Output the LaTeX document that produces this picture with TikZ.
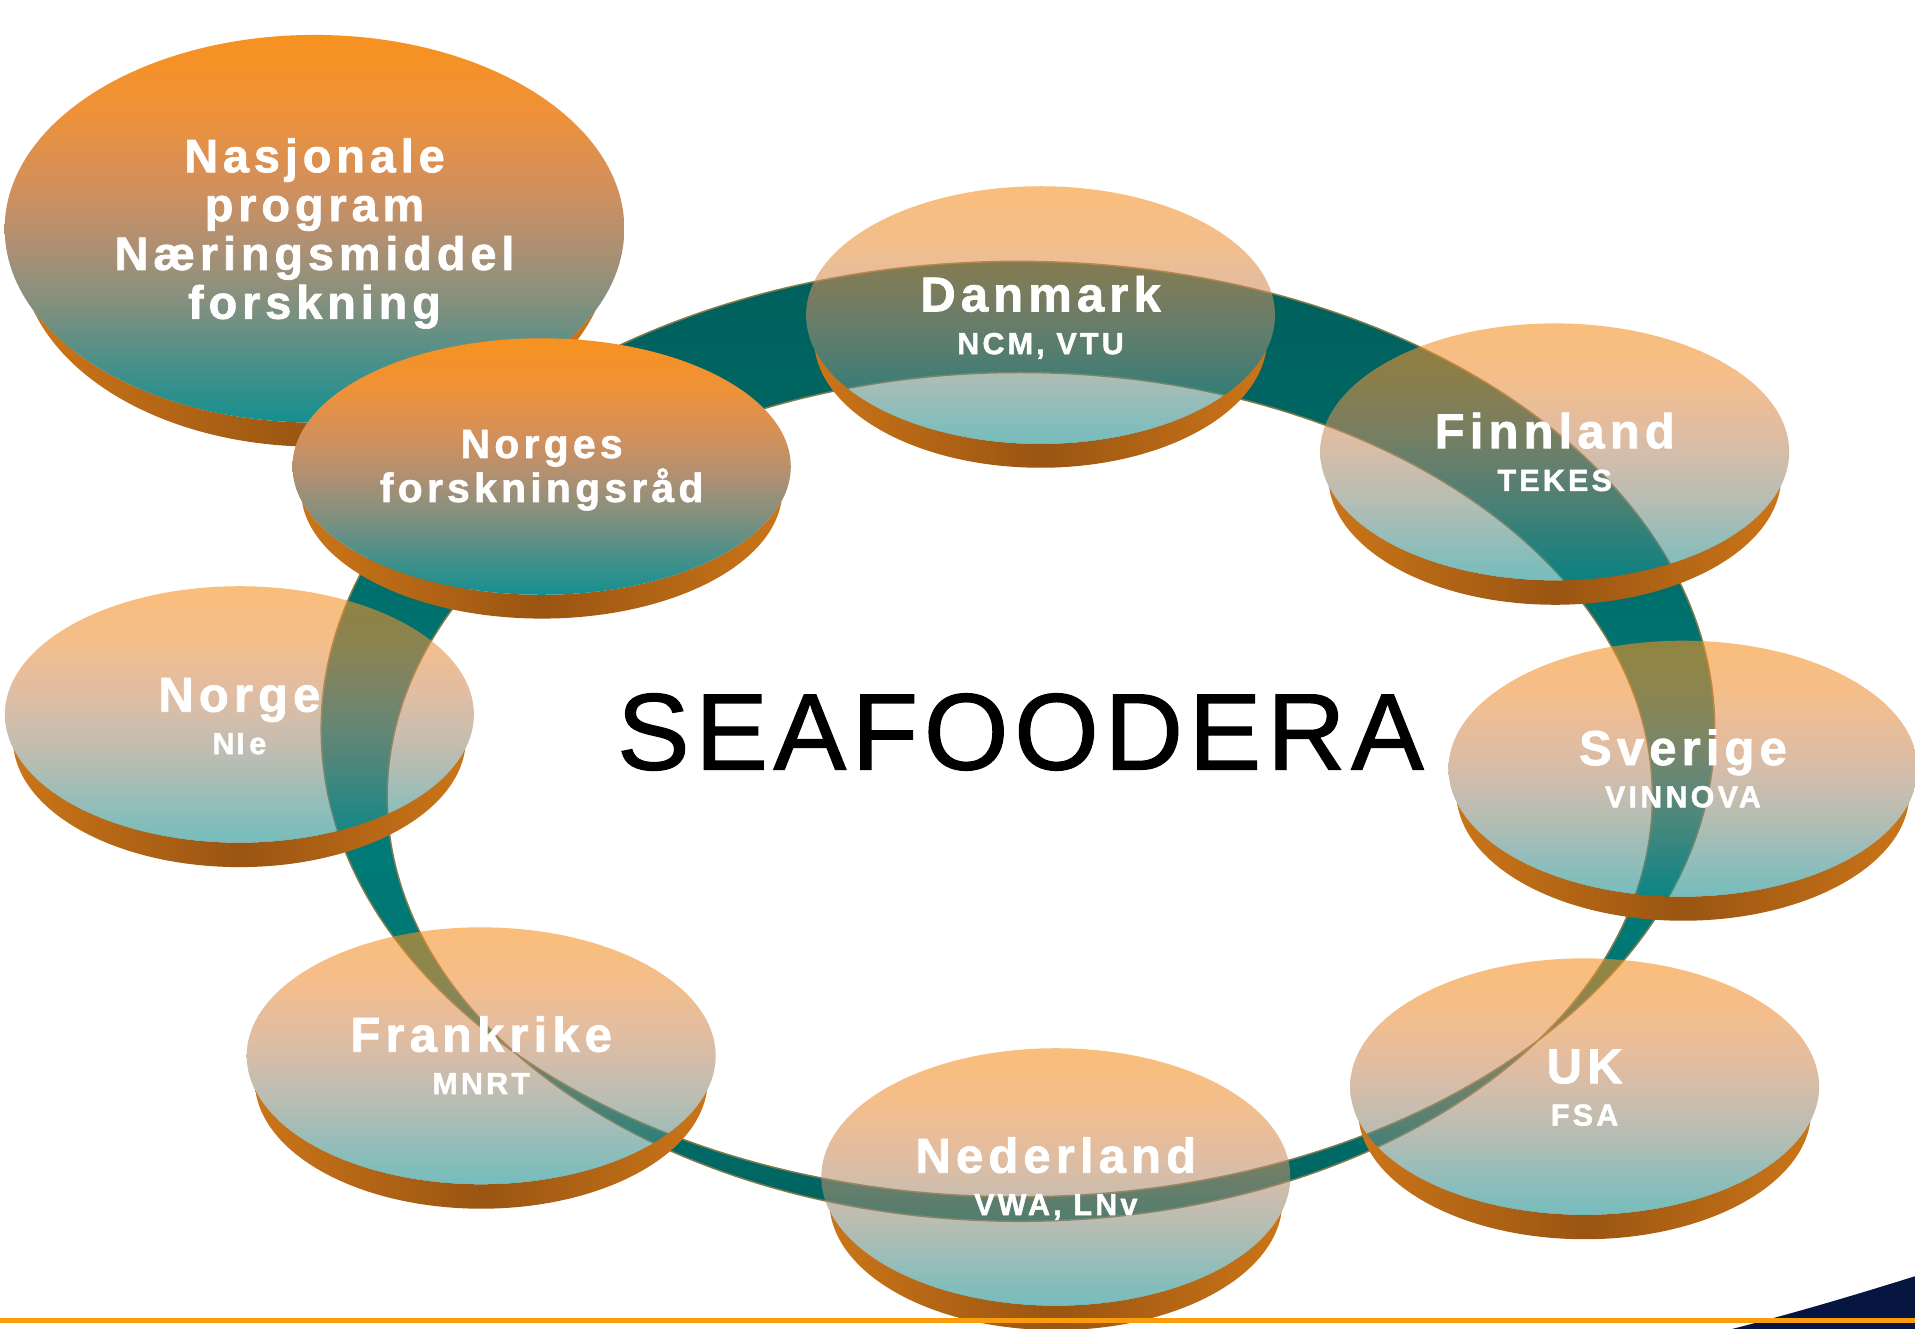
\documentclass[tikz,border=0pt]{standalone}
\usepackage{fontspec}
\setmainfont{Liberation Sans}
\newfontfamily\lblfont{Liberation Sans Bold}[LetterSpace=10.5, FakeBold=1.5]
\newfontfamily\ttlfont{Liberation Sans}[LetterSpace=5.3, FakeBold=1.2]
\definecolor{fO}{HTML}{F7921F}
\definecolor{fA}{HTML}{EE9139}
\definecolor{fB}{HTML}{D0905E}
\definecolor{fC}{HTML}{AC9074}
\definecolor{fD}{HTML}{80907F}
\definecolor{fE}{HTML}{48908A}
\definecolor{fT}{HTML}{14908F}
\definecolor{rL}{HTML}{CB7518}
\definecolor{rM}{HTML}{9A5512}
\definecolor{gA}{HTML}{005F5B}
\definecolor{gB}{HTML}{006C69}
\definecolor{gC}{HTML}{007C79}
\definecolor{gD}{HTML}{007572}
\definecolor{gE}{HTML}{00625E}
\definecolor{ringedge}{HTML}{7E7B4C}
\definecolor{navy}{HTML}{061640}
\definecolor{lineor}{HTML}{FA9C0C}
\pgfdeclareverticalshading{facesh}{100bp}{color(0bp)=(fT); color(25bp)=(fT); color(32.5bp)=(fE); color(40bp)=(fD); color(47.5bp)=(fC); color(55bp)=(fB); color(65bp)=(fA); color(75bp)=(fO); color(100bp)=(fO)}
\pgfdeclarehorizontalshading{rimsh}{100bp}{color(0bp)=(rL); color(25bp)=(rL); color(50bp)=(rM); color(75bp)=(rL); color(100bp)=(rL)}
\pgfdeclareverticalshading{ringsh}{100bp}{color(0bp)=(gE); color(25bp)=(gE); color(35bp)=(gD); color(47.5bp)=(gC); color(60bp)=(gB); color(75bp)=(gA); color(100bp)=(gA)}
% #1 cx, #2 cy, #3 rx, #4 ry, #5 depth, #6 k (lower ellipse width factor), #7 face opacity
\newcommand\Disc[7]{%
  \pgfmathsetmacro\dSdl{#5/#4}%
  \pgfmathsetmacro\dSkk{#6*#6}%
  \pgfmathsetmacro\dSa{\dSkk-1}%
  \pgfmathsetmacro\dSb{-2*\dSkk*\dSdl}%
  \pgfmathsetmacro\dSc{1-\dSkk+\dSkk*\dSdl*\dSdl}%
  \pgfmathsetmacro\dSs{(-\dSb-sqrt(\dSb*\dSb-4*\dSa*\dSc))/(2*\dSa)}%
  \pgfmathsetmacro\dSta{asin(\dSs)}%
  \pgfmathsetmacro\dStb{asin(\dSs-\dSdl)}%
  \pgfmathsetmacro\dSte{180-\dStb}%
  \pgfmathsetmacro\dStf{180-\dSta}%
  \pgfmathsetmacro\dSrx{#6*#3}%
  \path[shade, shading=rimsh] ({#1+#3*cos(\dSta)},{#2+#4*sin(\dSta)})
     arc[start angle=\dStb, end angle=\dSte, x radius=\dSrx, y radius=#4]
     arc[start angle=\dStf, end angle=\dSta, x radius=#3, y radius=#4] -- cycle;
  \path[shade, shading=facesh, fill opacity=#7] (#1,#2) ellipse[x radius=#3, y radius=#4];
}
\begin{document}
\begin{tikzpicture}[x=0.01cm, y=-0.01cm,
  lbl/.style={text=white, inner sep=0pt, anchor=base},
  nasj/.style={lbl, font=\lblfont\fontsize{10.9}{12}\selectfont},
  nfr/.style={lbl, font=\lblfont\fontsize{9.5}{11}\selectfont},
  cname/.style={lbl, font=\lblfont\fontsize{11.4}{13}\selectfont},
  csub/.style={lbl, font=\lblfont\fontsize{7.1}{8}\selectfont}]
\useasboundingbox (0,0) rectangle (1568,1088);
\fill[white] (0,0) rectangle (1568,1088);
% ring
\path[shade, shading=ringsh, even odd rule, draw=ringedge, line width=0.35pt]
  (833.5,597) ellipse[x radius=570.5, y radius=383]
  (835,652.5) ellipse[x radius=518, y radius=347.5];
% Nasjonale program
\Disc{257.5}{187.3}{253.7}{158.7}{19.7}{0.95}{1}
\node[nasj] (nas1) at (257.5,141) {Nasjonale};
\node[nasj] (nas2) at (257.5,181) {program};
\node[nasj] (nas3) at (257.5,221) {Næringsmiddel};
\node[nasj] (nas4) at (257.5,261) {forskning};
% Norges forskningsraad
\Disc{443.5}{382}{204}{105}{19.5}{0.966}{1}
\node[nfr] (nfr1) at (443.5,375) {Norges};
\node[nfr] (nfr2) at (443.5,411) {forskningsråd};
% countries
\Disc{852}{258}{192}{105.5}{19.5}{0.966}{0.59}
\node[cname] (dk) at (852,255) {Danmark};
\node[csub] (dks) at (852,290) {NCM, VTU};
\Disc{1273}{370}{192}{105.2}{20}{0.966}{0.59}
\node[cname] (fi) at (1273,367) {Finnland};
\node[csub] (fis) at (1273,402) {TEKES};
\Disc{196}{585}{192}{105}{20}{0.966}{0.59}
\node[cname] (no) at (196,582.7) {Norge};
\node[csub] (nos) at (196,617.4) {N\kern0.06em I\kern0.15em e};
\Disc{1378}{629.4}{192}{104.8}{19.7}{0.966}{0.59}
\node[cname] (se) at (1378,626.4) {Sverige};
\node[csub] (ses) at (1378,661) {VINNOVA};
\Disc{1297.5}{889.7}{192}{105}{20}{0.966}{0.59}
\node[cname] (uk) at (1297.5,887) {UK};
\node[csub] (uks) at (1297.5,921.7) {FSA};
\Disc{864.5}{963.7}{192}{105.4}{20}{0.966}{0.59}
\node[cname] (nl) at (864.5,960.2) {Nederland};
\node[csub] (nls) at (864.5,994.9) {VWA, LNv};
\Disc{394}{864.5}{192}{105.2}{20}{0.966}{0.59}
\node[cname] (fr) at (394,861.1) {Frankrike};
\node[csub] (frs) at (394,895.8) {MNRT};
% title
\node[inner sep=0pt, anchor=base, text=black, font=\ttlfont\fontsize{25.3}{30}\selectfont] (title) at (835.5,630) {SEAFOODERA};
% bottom decoration
\fill[navy] (1415,1089) .. controls (1470,1075) and (1520,1060) .. (1568,1045) -- (1568,1089) -- cycle;
\fill[lineor] (0,1079) rectangle (1568,1083.6);
\end{tikzpicture}
\end{document}
